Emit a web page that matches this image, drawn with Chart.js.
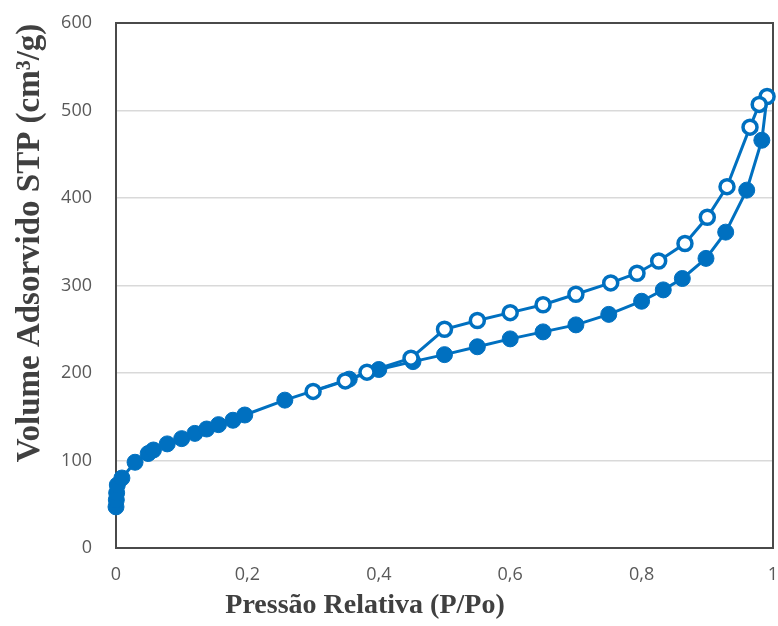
<!DOCTYPE html>
<html>
<head>
<meta charset="utf-8">
<script src="https://cdn.jsdelivr.net/npm/chart.js@4"></script>
<style>
  html, body { margin: 0; padding: 0; background: #ffffff; }
  #wrap { width: 778px; height: 626px; }
</style>
</head>
<body>
<div id="wrap"><canvas id="isoChart" width="778" height="626"></canvas></div>
<script>
// ==========================================
// DATA
// ==========================================
// Adsorption branch (filled markers)
const adsX = [0, 0.0005, 0.001, 0.002, 0.009, 0.029, 0.049, 0.057, 0.078, 0.1, 0.12, 0.138, 0.156, 0.178, 0.196,
              0.257, 0.355, 0.40, 0.452, 0.50, 0.55, 0.60, 0.65, 0.70, 0.75, 0.80, 0.833, 0.862, 0.898, 0.928, 0.96, 0.983];
const adsY = [47, 55, 63, 72, 80, 98, 108, 112, 119, 125, 131, 136, 141, 146, 152,
              169, 193, 204, 213, 221, 230, 239, 247, 255, 267, 282, 295, 308, 331, 361, 409, 466];

// Desorption branch (open markers)
const desX = [0.991, 0.979, 0.965, 0.93, 0.90, 0.866, 0.826, 0.793, 0.753, 0.70, 0.65, 0.60, 0.55, 0.50, 0.449, 0.382, 0.349, 0.30];
const desY = [516, 507, 481, 413, 378, 348, 328, 314, 303, 290, 278, 269, 260, 250, 217, 201, 191, 179];

const xTickLabels = ['0', '0,2', '0,4', '0,6', '0,8', '1'];
const yTickLabels = ['0', '100', '200', '300', '400', '500', '600'];

const xTitle = 'Pressão Relativa (P/Po)';
const yTitle = 'Volume Adsorvido STP (cm³/g)';

const BLUE = '#0070C0';

// adsorption line runs on up to the first desorption point (no marker there)
const adsData = adsX.map((x, i) => ({ x: x, y: adsY[i] }));
adsData.push({ x: desX[0], y: desY[0] });
const desData = desX.map((x, i) => ({ x: x, y: desY[i] }));

// ==========================================
// PLUGINS
// ==========================================
const frameAndTitles = {
    id: 'frameAndTitles',
    beforeDatasetsDraw(chart) {
        const { ctx, chartArea: a } = chart;
        ctx.save();
        ctx.strokeStyle = '#4a4a4a';
        ctx.lineWidth = 2;
        ctx.strokeRect(a.left, a.top, a.right - a.left, a.bottom - a.top);
        ctx.restore();
    },
    afterDraw(chart) {
        const { ctx } = chart;
        ctx.save();
        ctx.fillStyle = '#404040';
        ctx.textAlign = 'center';
        ctx.textBaseline = 'middle';
        // x title
        ctx.font = 'bold 28px "Liberation Serif", "Times New Roman", serif';
        ctx.fillText(xTitle, 365, 606);
        // y title
        ctx.translate(30, 243);
        ctx.rotate(-Math.PI / 2);
        ctx.font = 'bold 33px "Liberation Serif", "Times New Roman", serif';
        ctx.fillText(yTitle, 0, 0);
        ctx.restore();
    }
};

// ==========================================
// CHART
// ==========================================
const ctx = document.getElementById('isoChart');
new Chart(ctx, {
    type: 'scatter',
    data: {
        datasets: [
            {
                label: 'Dessorção',
                data: desData,
                showLine: true,
                borderColor: BLUE,
                borderWidth: 3,
                backgroundColor: '#ffffff',
                pointBackgroundColor: '#ffffff',
                pointBorderColor: BLUE,
                pointBorderWidth: 3.5,
                pointRadius: 7,
                clip: false,
                order: 0
            },
            {
                label: 'Adsorção',
                data: adsData,
                showLine: true,
                borderColor: BLUE,
                borderWidth: 3,
                backgroundColor: BLUE,
                pointBackgroundColor: BLUE,
                pointBorderColor: BLUE,
                pointBorderWidth: 1,
                pointRadius: function(c) { return c.dataIndex === adsData.length - 1 ? 0 : 8; },
                clip: false,
                order: 1
            }
        ]
    },
    options: {
        responsive: false,
        animation: false,
        layout: { autoPadding: false, padding: { top: 23, right: 5, left: 0, bottom: 0 } },
        plugins: {
            legend: { display: false },
            tooltip: { enabled: false }
        },
        scales: {
            x: {
                type: 'linear',
                min: 0,
                max: 1,
                ticks: {
                    stepSize: 0.2,
                    padding: 16,
                    color: '#595959',
                    font: { family: '"Open Sans", sans-serif', size: 18 },
                    callback: function(v, i) { return xTickLabels[i]; }
                },
                grid: { display: false, drawTicks: false },
                border: { display: false },
                afterFit: function(s) { s.height = 78; s.paddingLeft = 0; s.paddingRight = 0; }
            },
            y: {
                min: 0,
                max: 600,
                ticks: {
                    stepSize: 100,
                    padding: 24,
                    color: '#595959',
                    font: { family: '"Open Sans", sans-serif', size: 18 },
                    callback: function(v, i) { return yTickLabels[i]; }
                },
                grid: { color: '#d9d9d9', lineWidth: 1.5, drawTicks: false },
                border: { display: false },
                afterFit: function(s) { s.width = 116; s.paddingTop = 0; s.paddingBottom = 0; }
            }
        }
    },
    plugins: [frameAndTitles]
});
</script>
</body>
</html>
